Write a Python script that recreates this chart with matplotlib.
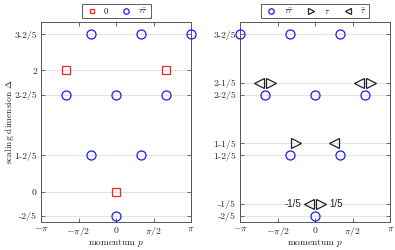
import numpy as np
import matplotlib.pyplot as plt

plt.rcParams['font.family'] = 'cmr10'
plt.rcParams['mathtext.fontset'] = 'cm'
plt.rcParams['axes.unicode_minus'] = False

pi = np.pi

# left panel: periodic sector
left_circ_p = [-pi/3, pi/3, pi, -2*pi/3, 0, 2*pi/3, -pi/3, pi/3, 0]
left_circ_d = [2.6, 2.6, 2.6, 1.6, 1.6, 1.6, 0.6, 0.6, -0.4]
left_sq_p = [-2*pi/3, 2*pi/3, 0]
left_sq_d = [2.0, 2.0, 0.0]
left_yticks = [-0.4, 0, 0.6, 1.6, 2, 2.6]
left_ylabels = ['-2/5', '0', '1-2/5', '2-2/5', '2', '3-2/5']

# right panel: twisted sector
right_circ_p = [-pi, -pi/3, pi/3, -2*pi/3, 0, 2*pi/3, -pi/3, pi/3, 0]
right_circ_d = [2.6, 2.6, 2.6, 1.6, 1.6, 1.6, 0.6, 0.6, -0.4]
tau_p = [-2*pi/3, 2*pi/3, -pi/3, 0]
tau_d = [1.8, 1.8, 0.8, -0.2]
taubar_p = [-2*pi/3, 2*pi/3, pi/3, 0]
taubar_d = [1.8, 1.8, 0.8, -0.2]
right_yticks = [-0.4, -0.2, 0.6, 0.8, 1.6, 1.8, 2.6]
right_ylabels = ['-2/5', '-1/5', '1-2/5', '1-1/5', '2-2/5', '2-1/5', '3-2/5']

xticks = [-pi, -pi/2, 0, pi/2, pi]
xlabels = [r'$-\pi$', r'$-\pi/2$', r'$0$', r'$\pi/2$', r'$\pi$']

dx = 0.26  # shift triangles sideways so they don't overlap
spine_col = '#555555'

fig = plt.figure(figsize=(3.95, 2.5), dpi=100)
ax1 = fig.add_axes([0.104, 0.112, 0.38, 0.80])
ax2 = fig.add_axes([0.608, 0.112, 0.38, 0.80])


def style(ax, yt, yl):
    ax.set_xlim(-pi, pi)
    ax.set_ylim(-0.5, 2.8)
    ax.set_xticks(xticks)
    ax.set_xticklabels(xlabels)
    ax.set_yticks(yt)
    ax.set_yticklabels(yl)
    ax.tick_params(direction='in', top=True, right=True, length=3, width=0.6,
                   labelsize=7, colors=spine_col, labelcolor='#222222', pad=3)
    ax.tick_params(axis='x', pad=2)
    ax.grid(axis='y', color='#e3e3e3', linewidth=0.8)
    ax.set_axisbelow(True)
    for s in ax.spines.values():
        s.set_color(spine_col)
        s.set_linewidth(0.7)
    ax.set_xlabel(r'momentum $p$', fontsize=6.8, color='#222222')
    ax.xaxis.set_label_coords(0.5, -0.075)


ax1.plot(left_sq_p, left_sq_d, 's', ms=5.5, mfc='none', mec='#ff2020', mew=0.9,
         label='0', clip_on=False, zorder=3)
ax1.plot(left_circ_p, left_circ_d, 'o', ms=6.5, mfc='none', mec='#1a1aff', mew=0.9,
         label=r'$\tau\bar{\tau}$', clip_on=False, zorder=3)
style(ax1, left_yticks, left_ylabels)
ax1.set_ylabel(r'scaling dimension $\Delta$', fontsize=6.8, color='#222222')
ax1.yaxis.set_label_coords(-0.17, 0.5)

ax2.plot(right_circ_p, right_circ_d, 'o', ms=6.5, mfc='none', mec='#1a1aff', mew=0.9,
         label=r'$\tau\bar{\tau}$', clip_on=False, zorder=3)
ax2.plot(np.array(tau_p) + dx, tau_d, '>', ms=6.5, mfc='none', mec='#222222', mew=0.9,
         label=r'$\tau$', clip_on=False, zorder=3)
ax2.plot(np.array(taubar_p) - dx, taubar_d, '<', ms=6.5, mfc='none', mec='#222222', mew=0.9,
         label=r'$\bar{\tau}$', clip_on=False, zorder=3)
style(ax2, right_yticks, right_ylabels)
ax2.text(-2.2 * dx, -0.2, '-1/5', family='Liberation Sans', fontsize=7,
         ha='right', va='center', color='#222222')
ax2.text(2.2 * dx, -0.2, '1/5', family='Liberation Sans', fontsize=7,
         ha='left', va='center', color='#222222')

for ax, nc in [(ax1, 2), (ax2, 3)]:
    leg = ax.legend(loc='lower center', bbox_to_anchor=(0.5, 1.02), ncol=nc,
                    fontsize=6, markerscale=0.6, frameon=True, fancybox=False,
                    edgecolor='#333333', handlelength=1.8, columnspacing=1.2,
                    borderpad=0.3, handletextpad=0.6, borderaxespad=0)
    leg.get_frame().set_linewidth(0.7)

fig.savefig('out.png', dpi=100)
